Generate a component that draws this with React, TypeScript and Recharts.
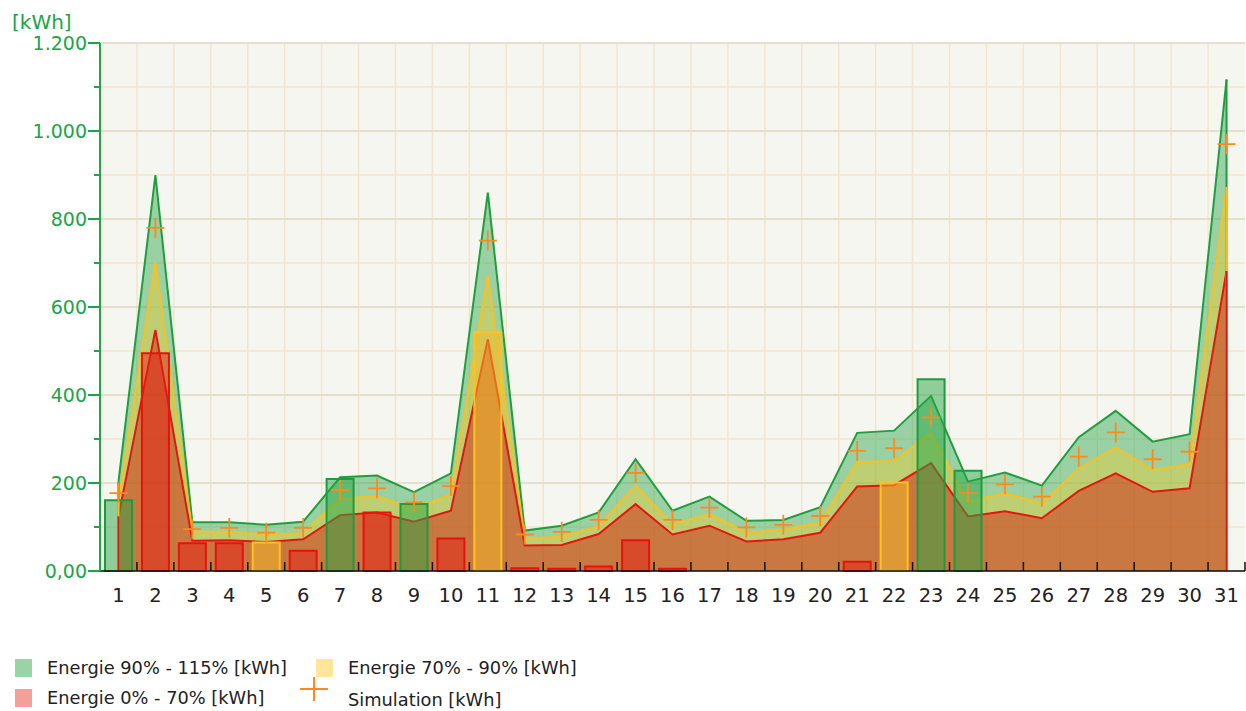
import React from 'react';
import { ComposedChart, Area, Bar, Line, XAxis, YAxis, CartesianGrid, ReferenceLine } from 'recharts';

const days = [1, 2, 3, 4, 5, 6, 7, 8, 9, 10, 11, 12, 13, 14, 15, 16, 17, 18, 19, 20, 21, 22, 23, 24, 25, 26, 27, 28, 29, 30, 31];

// Simulation [kWh]
const simulation = [177, 780, 95, 98, 87, 98, 184, 188, 156, 193, 751, 83, 89, 116, 223, 116, 144, 99, 105, 125, 273, 279, 349, 177, 197, 169, 260, 315, 254, 271, 970];

// band limits
const limit115 = [203, 900, 111, 111, 105, 112, 213, 217, 179, 222, 860, 92, 103, 133, 254, 137, 169, 114, 116, 145, 314, 319, 398, 203, 224, 194, 304, 364, 294, 311, 1117];
const limit90 = [159, 702, 89, 89, 82, 86, 165, 170, 141, 174, 672, 74, 78, 102, 195, 106, 130, 87, 93, 110, 248, 250, 314, 158, 177, 154, 233, 281, 230, 243, 873];
const limit70 = [124, 548, 69, 70, 66, 72, 127, 133, 112, 137, 527, 58, 59, 84, 152, 83, 103, 67, 72, 87, 192, 195, 245, 124, 136, 120, 182, 222, 180, 188, 682];

// measured energy per day, split by band
const energyGreen = [161, null, null, null, null, null, 209, null, 152, null, null, null, null, null, null, null, null, null, null, null, null, null, 436, 228, null, null, null, null, null, null, null];
const energyYellow = [null, null, null, null, 65, null, null, null, null, null, 542, null, null, null, null, null, null, null, null, null, null, 201, null, null, null, null, null, null, null, null, null];
const energyRed = [null, 495, 63, 63, null, 46, null, 133, null, 74, null, 6, 5, 10, 70, 5, null, null, null, null, 21, null, null, null, null, null, null, null, null, null, null];

const yTicks = [0, 100, 200, 300, 400, 500, 600, 700, 800, 900, 1000, 1100, 1200];
const yMajor = [0, 200, 400, 600, 800, 1000, 1200];
const Y_MAX = 1200;

const W = 1246;
const H = 630;
const X_H = 59; // plot bottom at 571
const MARGIN = { top: 43, right: 1, left: 0, bottom: 0 };
const Y_W = 100;
const BAND = (W - MARGIN.left - MARGIN.right - Y_W) / days.length;

const GREEN = '#22a347';
const FONT = '"DejaVu Sans", Verdana, sans-serif';

const data = days.map((d, i) => ({
  day: d,
  sim: simulation[i],
  hi: limit115[i],
  mid: limit90[i],
  lo: limit70[i],
  g: energyGreen[i],
  y: energyYellow[i],
  r: energyRed[i],
}));

const fmt = (v: number) => {
  if (v === 0) return '0,00';
  if (v >= 1000) return `${Math.floor(v / 1000)}.${String(v % 1000).padStart(3, '0')}`;
  return String(v);
};

const YTick = ({ x, y, payload }: any) => {
  const v = payload.value;
  const major = v % 200 === 0;
  return (
    <g>
      <line x1={x - (major ? 12 : 6)} x2={x} y1={y} y2={y} stroke={GREEN} strokeWidth={2} />
      {major && (
        <text x={x - 13} y={y + 7} textAnchor="end" fill={GREEN} fontSize={19} fontFamily={FONT}>
          {fmt(v)}
        </text>
      )}
    </g>
  );
};

const XTick = ({ x, y, payload, index }: any) => {
  const half = BAND / 2;
  return (
    <g>
      {index > 0 && <line x1={x - half} x2={x - half} y1={y} y2={y - 9} stroke="#111" strokeWidth={1.5} />}
      {index === days.length - 1 && <line x1={x + half} x2={x + half} y1={y} y2={y - 9} stroke="#111" strokeWidth={1.5} />}
      <text x={x} y={y + 31} textAnchor="middle" fill="#222" fontSize={19.5} fontFamily={FONT}>
        {payload.value}
      </text>
    </g>
  );
};

const PlusDot = (props: any) => {
  const { cx, cy, index } = props;
  if (cx == null || cy == null) return <g key={index} />;
  return (
    <path
      key={index}
      d={`M${cx - 9},${cy}H${cx + 9}M${cx},${cy - 10}V${cy + 10}`}
      stroke="#ff8a1c"
      strokeWidth={1.8}
      fill="none"
    />
  );
};

const last = days.length - 1;

export default function App() {
  return (
    <div style={{ position: 'relative', width: W, height: 711, background: '#fff', overflow: 'hidden' }}>
      <style>{'body{margin:0}'}</style>
      <ComposedChart width={W} height={H} data={data} margin={MARGIN}>
        <CartesianGrid
          fill="#f6f6f0"
          stroke="#f3e5cb"
          strokeWidth={1.5}
          verticalCoordinatesGenerator={({ offset }: any) =>
            days.slice(1).map((_, i) => offset.left + ((i + 1) * offset.width) / days.length)
          }
        />
        <CartesianGrid
          vertical={false}
          stroke="#e0dcc8"
          strokeWidth={1.5}
          horizontalCoordinatesGenerator={({ offset }: any) =>
            yMajor.map((v) => offset.top + offset.height * (1 - v / Y_MAX))
          }
        />
        <XAxis
          dataKey="day"
          type="category"
          interval={0}
          tickSize={0}
          tickMargin={0}
          tickLine={false}
          height={X_H}
          axisLine={{ stroke: '#111', strokeWidth: 1.5 }}
          tick={<XTick />}
        />
        <YAxis
          type="number"
          domain={[0, Y_MAX]}
          ticks={yTicks}
          interval={0}
          width={Y_W}
          tickSize={0}
          tickMargin={0}
          tickLine={false}
          axisLine={{ stroke: GREEN, strokeWidth: 2 }}
          tick={<YTick />}
        />
        <Area type="linear" dataKey="hi" stroke="#1f9e3f" strokeWidth={2} fill="#28a546" fillOpacity={0.45} dot={false} activeDot={false} isAnimationActive={false} />
        <Area type="linear" dataKey="mid" stroke="#f7c124" strokeWidth={2} fill="#ffc81e" fillOpacity={0.37} dot={false} activeDot={false} isAnimationActive={false} />
        <Area type="linear" dataKey="lo" stroke="#e3170f" strokeWidth={2} fill="#cf3217" fillOpacity={0.55} dot={false} activeDot={false} isAnimationActive={false} />
        <ReferenceLine segment={[{ x: days[0], y: 0 }, { x: days[0], y: limit115[0] }]} stroke="#1f9e3f" strokeWidth={2} />
        <ReferenceLine segment={[{ x: days[0], y: 0 }, { x: days[0], y: limit90[0] }]} stroke="#f7c124" strokeWidth={2} />
        <ReferenceLine segment={[{ x: days[0], y: 0 }, { x: days[0], y: limit70[0] }]} stroke="#e3170f" strokeWidth={2} />
        <ReferenceLine segment={[{ x: days[last], y: 0 }, { x: days[last], y: limit115[last] }]} stroke="#1f9e3f" strokeWidth={2} />
        <ReferenceLine segment={[{ x: days[last], y: 0 }, { x: days[last], y: limit90[last] }]} stroke="#f7c124" strokeWidth={2} />
        <ReferenceLine segment={[{ x: days[last], y: 0 }, { x: days[last], y: limit70[last] }]} stroke="#e3170f" strokeWidth={2} />
        <Bar dataKey="g" stackId="e" barSize={27} fill="#28a546" fillOpacity={0.5} stroke="#1e9b3c" strokeWidth={2} isAnimationActive={false} />
        <Bar dataKey="y" stackId="e" barSize={27} fill="#f5b928" fillOpacity={0.5} stroke="#ffc21e" strokeWidth={2} isAnimationActive={false} />
        <Bar dataKey="r" stackId="e" barSize={27} fill="#e61e14" fillOpacity={0.5} stroke="#e8120c" strokeWidth={2} isAnimationActive={false} />
        <Line type="linear" dataKey="sim" stroke="none" dot={PlusDot} activeDot={false} isAnimationActive={false} />
      </ComposedChart>
      <svg width={W} height={711} style={{ position: 'absolute', left: 0, top: 0, pointerEvents: 'none' }}>
        <text x={12} y={29} fill={GREEN} fontSize={20} fontFamily={FONT}>[kWh]</text>
        <rect x={15} y={659} width={17} height={18} fill="#28a546" fillOpacity={0.48} />
        <text x={47} y={673.5} fill="#222" fontSize={17.8} fontFamily={FONT}>Energie 90% - 115% [kWh]</text>
        <rect x={316} y={659} width={17} height={18} fill="#ffc81e" fillOpacity={0.45} />
        <text x={348} y={673.5} fill="#222" fontSize={17.8} fontFamily={FONT}>Energie 70% - 90% [kWh]</text>
        <rect x={15} y={689} width={17} height={18} fill="#e62d1e" fillOpacity={0.45} />
        <text x={47} y={703.5} fill="#222" fontSize={17.8} fontFamily={FONT}>Energie 0% - 70% [kWh]</text>
        <path d="M300,689H328M314,677V701" stroke="#ff8a1c" strokeWidth={2} />
        <text x={348} y={706} fill="#222" fontSize={17.8} fontFamily={FONT}>Simulation [kWh]</text>
      </svg>
    </div>
  );
}
